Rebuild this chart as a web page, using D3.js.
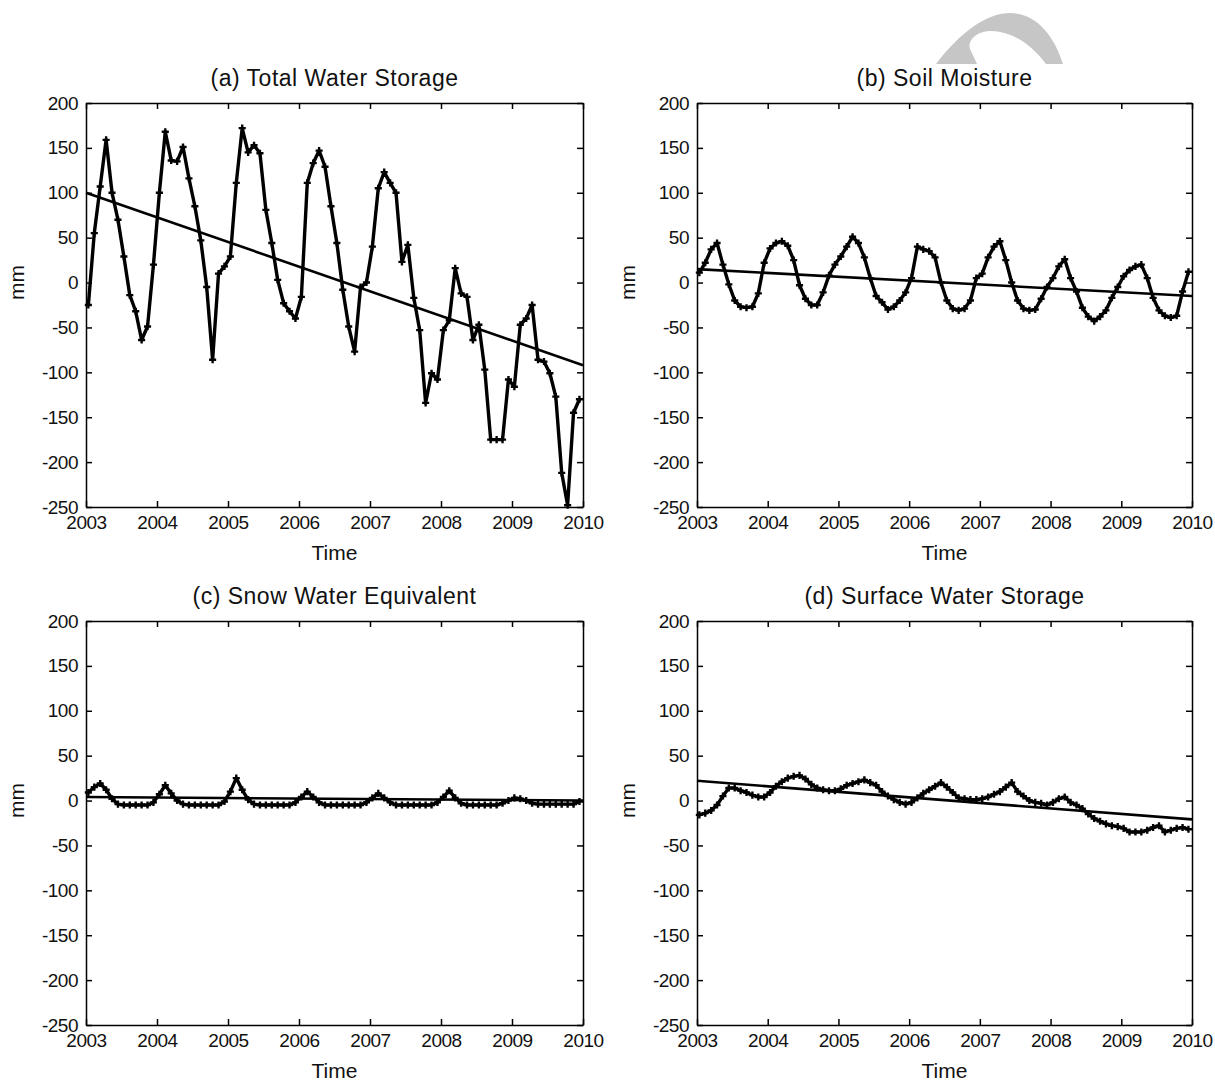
<!DOCTYPE html>
<html>
<head>
<meta charset="utf-8">
<script src="https://cdn.jsdelivr.net/npm/d3@7"></script>
<style>
    body { margin: 0; background: #fff; }
    svg { display: block; font-family: 'Liberation Sans', Arial, sans-serif; }
    .axis path, .axis line { stroke: #000; stroke-width: 1.5; }
    .axis text { font-size: 19px; letter-spacing: -0.5px; fill: #111; font-family: 'Liberation Sans', Arial, sans-serif; }
    .panel-title { font-size: 23px; letter-spacing: 0.5px; fill: #111; }
    .axis-title { font-size: 21px; fill: #111; }
</style>
</head>
<body>
<div id="chart"></div>
<script>
// monthly anomalies Jan 2003 - Dec 2009, mm
const totalWater = [
    -25, 55, 107, 159, 100, 70, 29, -14, -32, -64,
    -49, 20, 100, 168, 136, 135, 151, 116, 85, 47,
    -5, -86, 10, 18, 29, 111, 172, 145, 153, 144,
    81, 44, 3, -23, -32, -40, -16, 111, 133, 147,
    129, 85, 44, -8, -49, -77, -5, 0, 40, 105,
    123, 111, 100, 23, 42, -17, -53, -134, -101, -108,
    -53, -42, 16, -12, -16, -64, -47, -97, -175, -175,
    -175, -108, -116, -47, -40, -25, -86, -88, -101, -127,
    -212, -248, -145, -130
];
const soilMoisture = [
    11, 22, 37, 44, 20, -2, -20, -27, -28, -27,
    -12, 22, 38, 44, 46, 41, 25, -3, -18, -25,
    -25, -11, 8, 20, 29, 40, 51, 44, 28, 5,
    -15, -22, -30, -27, -20, -11, 5, 40, 37, 35,
    28, 0, -20, -29, -31, -29, -20, 5, 10, 28,
    40, 46, 25, 0, -20, -29, -31, -30, -18, -5,
    5, 18, 26, 5, -10, -28, -38, -43, -38, -31,
    -17, -5, 7, 14, 18, 20, 5, -17, -31, -37,
    -39, -37, -10, 12
];
const snowWater = [
    9, 15, 19, 12, 2, -4, -5, -5, -5, -5,
    -5, -2, 7, 17, 8, 0, -4, -5, -5, -5,
    -5, -5, -5, -1, 10, 25, 12, 1, -4, -5,
    -5, -5, -5, -5, -5, -2, 4, 10, 4, -2,
    -5, -5, -5, -5, -5, -5, -5, -2, 3, 8,
    3, -2, -5, -5, -5, -5, -5, -5, -5, -2,
    4, 11, 3, -3, -5, -5, -5, -5, -5, -5,
    -3, 0, 3, 2, 0, -3, -4, -4, -4, -4,
    -4, -4, -4, -1
];
const surfaceWater = [
    -16, -14, -11, -5, 5, 14, 14, 11, 9, 6,
    4, 4, 9, 16, 21, 25, 27, 28, 24, 18,
    14, 12, 11, 11, 13, 17, 19, 21, 23, 20,
    17, 10, 5, 1, -2, -4, -2, 3, 8, 12,
    16, 20, 15, 9, 3, 2, 1, 1, 2, 4,
    7, 10, 15, 20, 10, 5, 0, -2, -3, -5,
    -2, 2, 4, -2, -5, -9, -15, -20, -23, -26,
    -28, -29, -31, -35, -35, -35, -33, -30, -28, -35,
    -33, -31, -30, -32
];

// linear trend values at 2003 and 2010
const totalTrend = [100, -92];
const soilTrend = [15, -15];
const snowTrend = [4, 0];
const surfaceTrend = [22, -21];

const yearTicks = [2003, 2004, 2005, 2006, 2007, 2008, 2009, 2010];
const mmTicks = [-250, -200, -150, -100, -50, 0, 50, 100, 150, 200];

const months = d3.range(totalWater.length).map(i => 2003 + (i + 0.4) / 12);

class WaterPanel {
    constructor(_config, _values, _trend) {
        this.config = {
            parent: _config.parent,
            left: _config.left,
            top: _config.top,
            width: _config.width || 497,
            height: _config.height || 404,
            title: _config.title,
            yLabelX: _config.yLabelX,
        }
        this.values = _values;
        this.trend = _trend;

        this.InitVis();
    }

    InitVis() {
        let vis = this;

        vis.chart = vis.config.parent.append('g')
            .attr('transform', `translate(${vis.config.left},${vis.config.top})`);

        vis.xScale = d3.scaleLinear()
            .domain([2003, 2010])
            .range([0, vis.config.width]);

        vis.yScale = d3.scaleLinear()
            .domain([-250, 200])
            .range([vis.config.height, 0]);

        // matlab style: ticks point inwards on every side
        vis.xAxis = d3.axisBottom(vis.xScale)
            .tickValues(yearTicks)
            .tickFormat(d => String(d))
            .tickSizeInner(-6)
            .tickSizeOuter(0)
            .tickPadding(9);

        vis.xAxisTop = d3.axisTop(vis.xScale)
            .tickValues(yearTicks)
            .tickFormat('')
            .tickSizeInner(-6)
            .tickSizeOuter(0);

        vis.yAxis = d3.axisLeft(vis.yScale)
            .tickValues(mmTicks)
            .tickFormat(d => String(d)) // plain hyphen for negatives
            .tickSizeInner(-6)
            .tickSizeOuter(0)
            .tickPadding(8);

        vis.yAxisRight = d3.axisRight(vis.yScale)
            .tickValues(mmTicks)
            .tickFormat('')
            .tickSizeInner(-6)
            .tickSizeOuter(0);

        vis.line = d3.line()
            .x((d, i) => vis.xScale(months[i]))
            .y(d => vis.yScale(d));

        vis.chart.append('text')
            .attr('class', 'panel-title')
            .attr('x', vis.config.width / 2)
            .attr('y', -17)
            .attr('text-anchor', 'middle')
            .text(vis.config.title);

        vis.chart.append('text')
            .attr('class', 'axis-title')
            .attr('x', vis.config.width / 2)
            .attr('y', vis.config.height + 53)
            .attr('text-anchor', 'middle')
            .text('Time');

        vis.chart.append('text')
            .attr('class', 'axis-title')
            .attr('transform', `translate(${vis.config.yLabelX},${vis.yScale(0)}) rotate(-90)`)
            .attr('text-anchor', 'middle')
            .text('mm');

        vis.UpdateVis();
    }

    UpdateVis() {
        let vis = this;
        vis.trendPoints = [[2003, vis.trend[0]], [2010, vis.trend[1]]];
        vis.RenderVis();
    }

    RenderVis() {
        let vis = this;

        vis.chart.append('path')
            .datum(vis.values)
            .attr('fill', 'none')
            .attr('stroke', '#000')
            .attr('stroke-width', 3.4)
            .attr('stroke-linejoin', 'round')
            .attr('d', vis.line);

        vis.chart.selectAll('.marker')
            .data(vis.values)
            .join('path')
            .attr('class', 'marker')
            .attr('transform', (d, i) => `translate(${vis.xScale(months[i])},${vis.yScale(d)})`)
            .attr('d', d3.symbol(d3.symbolCross, 28))
            .attr('fill', '#000');

        vis.chart.append('line')
            .attr('x1', vis.xScale(vis.trendPoints[0][0]))
            .attr('y1', vis.yScale(vis.trendPoints[0][1]))
            .attr('x2', vis.xScale(vis.trendPoints[1][0]))
            .attr('y2', vis.yScale(vis.trendPoints[1][1]))
            .attr('stroke', '#000')
            .attr('stroke-width', 2.6);

        vis.chart.append('g')
            .attr('class', 'axis x-axis')
            .attr('transform', `translate(0,${vis.config.height})`)
            .call(vis.xAxis);

        vis.chart.append('g')
            .attr('class', 'axis')
            .call(vis.xAxisTop);

        vis.chart.append('g')
            .attr('class', 'axis y-axis')
            .call(vis.yAxis);

        vis.chart.append('g')
            .attr('class', 'axis')
            .attr('transform', `translate(${vis.config.width},0)`)
            .call(vis.yAxisRight);
    }
}

const svg = d3.select('#chart').append('svg')
    .attr('width', 1215)
    .attr('height', 1083);

svg.append('rect')
    .attr('width', 1215)
    .attr('height', 1083)
    .attr('fill', '#fff');

// grey arc in the top margin of the source image
svg.append('path')
    .attr('d', 'M936,64 C962,30 988,13 1010,13 C1036,13 1054,35 1063,64 L1046,64 C1031,43 1010,31 991,31 C977,31 967,40 970,49 L977,64 Z')
    .attr('fill', '#c6c6c6');

new WaterPanel({parent: svg, left: 86, top: 103, title: '(a) Total Water Storage', yLabelX: -62}, totalWater, totalTrend);
new WaterPanel({parent: svg, left: 697, top: 103, width: 495, title: '(b) Soil Moisture', yLabelX: -62}, soilMoisture, soilTrend);
new WaterPanel({parent: svg, left: 86, top: 621, title: '(c) Snow Water Equivalent', yLabelX: -62}, snowWater, snowTrend);
new WaterPanel({parent: svg, left: 697, top: 621, width: 495, title: '(d) Surface Water Storage', yLabelX: -62}, surfaceWater, surfaceTrend);
</script>
</body>
</html>
